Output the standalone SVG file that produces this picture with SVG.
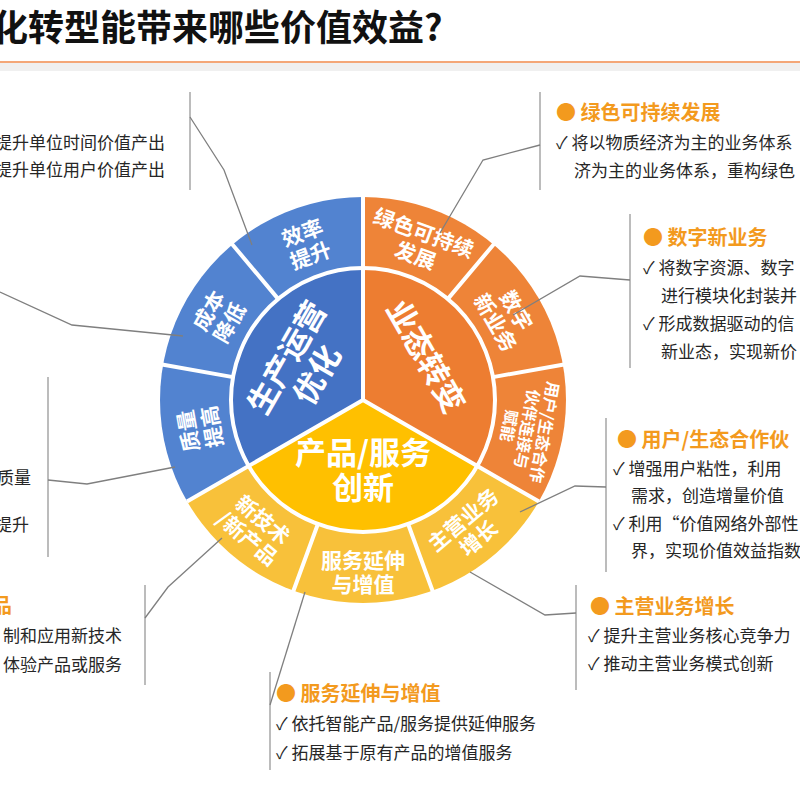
<svg xmlns="http://www.w3.org/2000/svg" width="800" height="800" viewBox="0 0 800 800">
<style>
text{font-family:"Noto Sans CJK SC","Liberation Sans",sans-serif}
.body{font-size:17px;fill:#262626}
.head{font-size:20px;font-weight:bold;fill:#F39A1E}
.ring{font-size:21px;font-weight:bold;fill:#fff;text-anchor:middle}
.core{font-size:31px;font-weight:bold;fill:#fff;text-anchor:middle}
.vl{stroke:#a6a6a6;stroke-width:1.5;fill:none}
.cn{stroke:#7f7f7f;stroke-width:1.3;fill:none}
.sep{stroke:#fff;stroke-width:4;fill:none}
</style>
<rect width="800" height="800" fill="#fff"/>
<g id="title">
<text x="-8" y="41" font-size="36" font-weight="bold" fill="#111">化转型能带来哪些价值效益?</text>
<rect x="0" y="63" width="800" height="8" fill="#f0f0f0"/>
<line x1="0" y1="62" x2="800" y2="62" stroke="#F08A4B" stroke-width="1.5"/>
</g>
<g id="wheel">
<path d="M363,400 L187.2,501.5 A203,203 0 0 1 363,197 Z" fill="#5283D0"/>
<path d="M363,400 L363,197 A203,203 0 0 1 538.8,501.5 Z" fill="#EE8438"/>
<path d="M363,400 L538.8,501.5 A203,203 0 0 1 187.2,501.5 Z" fill="#F8C13A"/>
<path d="M363,400 L248.7,466 A132,132 0 0 1 363,268 Z" fill="#4472C4"/>
<path d="M363,400 L363,268 A132,132 0 0 1 477.3,466 Z" fill="#ED7D31"/>
<path d="M363,400 L477.3,466 A132,132 0 0 1 248.7,466 Z" fill="#FFC000"/>
<circle cx="363" cy="400" r="132" class="sep"/>
<path class="sep" d="M363,400 L363,196 M363,400 L187,501.6 M363,400 L539,501.6 M233,377.1 L162,364.5 M278.1,298.9 L232,244 M447.9,298.9 L494,244 M493,377.1 L564,364.5 M408.1,524 L433,592 M317.9,524 L293,592"/>
</g>
<g id="ring-labels">
<g transform="translate(306,243) rotate(-20)"><text class="ring" y="-3">效率</text><text class="ring" y="21">提升</text></g>
<g transform="translate(218,316) rotate(-60)"><text class="ring" y="-3">成本</text><text class="ring" y="21">降低</text></g>
<g transform="translate(199,429) rotate(-100)"><text class="ring" y="-3">质量</text><text class="ring" y="21">提高</text></g>
<g transform="translate(420,243) rotate(20)"><text class="ring" y="-3">绿色可持续</text><text class="ring" y="21">发展</text></g>
<g transform="translate(507,316) rotate(60)"><text class="ring" y="-3">数字</text><text class="ring" y="21">新业务</text></g>
<g transform="translate(527,429) rotate(100)"><text class="ring" style="font-size:16px" y="-12">用户/生态合作</text><text class="ring" style="font-size:16px" y="6">伙伴连接与</text><text class="ring" style="font-size:16px" y="24">赋能</text></g>
<g transform="translate(470,528) rotate(-40)"><text class="ring" y="-3">主营业务</text><text class="ring" y="21">增长</text></g>
<g transform="translate(363,571)"><text class="ring" y="-3">服务延伸</text><text class="ring" y="21">与增值</text></g>
<g transform="translate(256,528) rotate(40)"><text class="ring" y="-3">新技术</text><text class="ring" y="21">/新产品</text></g>
</g>
<g id="core-labels">
<g transform="translate(300,365) rotate(-60)"><text class="core" y="-4">生产运营</text><text class="core" y="31">优化</text></g>
<g transform="translate(425,357) rotate(60)"><text class="core" y="10">业态转变</text></g>
<text class="core" x="363" y="464">产品/服务</text>
<text class="core" x="363" y="499">创新</text>
</g>
<g id="connectors">
<path class="vl" d="M190,92 V190 M540,92 V190 M630,214 V368 M606,418 V572 M576,585 V690 M270,672 V770 M145,585 V685 M48,377 V557"/>
<path class="cn" d="M190,117 L224,170 L252,245"/>
<path class="cn" d="M540,145 L483,160 L440,233"/>
<path class="cn" d="M630,280 L580,276 L513,315"/>
<path class="cn" d="M606,487 L575,486 L520,512"/>
<path class="cn" d="M470,572 L545,615 L576,613"/>
<path class="cn" d="M305,592 L270,705"/>
<path class="cn" d="M145,618 L168,587 L222,538"/>
<path class="cn" d="M48,480 L87,484 L175,467"/>
<path class="cn" d="M0,292 L72,325 L183,336"/>
</g>
<g id="note-efficiency">
<text class="body" x="165" y="149" text-anchor="end">提升单位时间价值产出</text>
<text class="body" x="165" y="176" text-anchor="end">提升单位用户价值产出</text>
</g>
<g id="note-quality">
<text class="body" x="31" y="484" text-anchor="end">质量</text>
<text class="body" x="29" y="531" text-anchor="end">提升</text>
</g>
<g id="note-newtech">
<text class="head" x="12" y="613" text-anchor="end">品</text>
<text class="body" x="122" y="642" text-anchor="end">制和应用新技术</text>
<text class="body" x="122" y="671" text-anchor="end">体验产品或服务</text>
</g>
<g id="note-green">
<text class="head" x="556" y="120">● 绿色可持续发展</text>
<text class="body" x="556" y="149">✓ 将以物质经济为主的业务体系</text>
<text class="body" x="574" y="177">济为主的业务体系，重构绿色</text>
</g>
<g id="note-digital">
<text class="head" x="643" y="245">● 数字新业务</text>
<text class="body" x="643" y="274">✓ 将数字资源、数字</text>
<text class="body" x="661" y="302">进行模块化封装并</text>
<text class="body" x="643" y="330">✓ 形成数据驱动的信</text>
<text class="body" x="661" y="358">新业态，实现新价</text>
</g>
<g id="note-user">
<text class="head" x="617" y="447">● 用户/生态合作伙</text>
<text class="body" x="613" y="475">✓ 增强用户粘性，利用</text>
<text class="body" x="631" y="502">需求，创造增量价值</text>
<text class="body" x="613" y="530">✓ 利用“价值网络外部性</text>
<text class="body" x="631" y="557">界，实现价值效益指数</text>
</g>
<g id="note-main">
<text class="head" x="590" y="614">● 主营业务增长</text>
<text class="body" x="588" y="642">✓ 提升主营业务核心竞争力</text>
<text class="body" x="588" y="670">✓ 推动主营业务模式创新</text>
</g>
<g id="note-service">
<text class="head" x="276" y="701">● 服务延伸与增值</text>
<text class="body" x="276" y="730">✓ 依托智能产品/服务提供延伸服务</text>
<text class="body" x="276" y="759">✓ 拓展基于原有产品的增值服务</text>
</g>
</svg>
